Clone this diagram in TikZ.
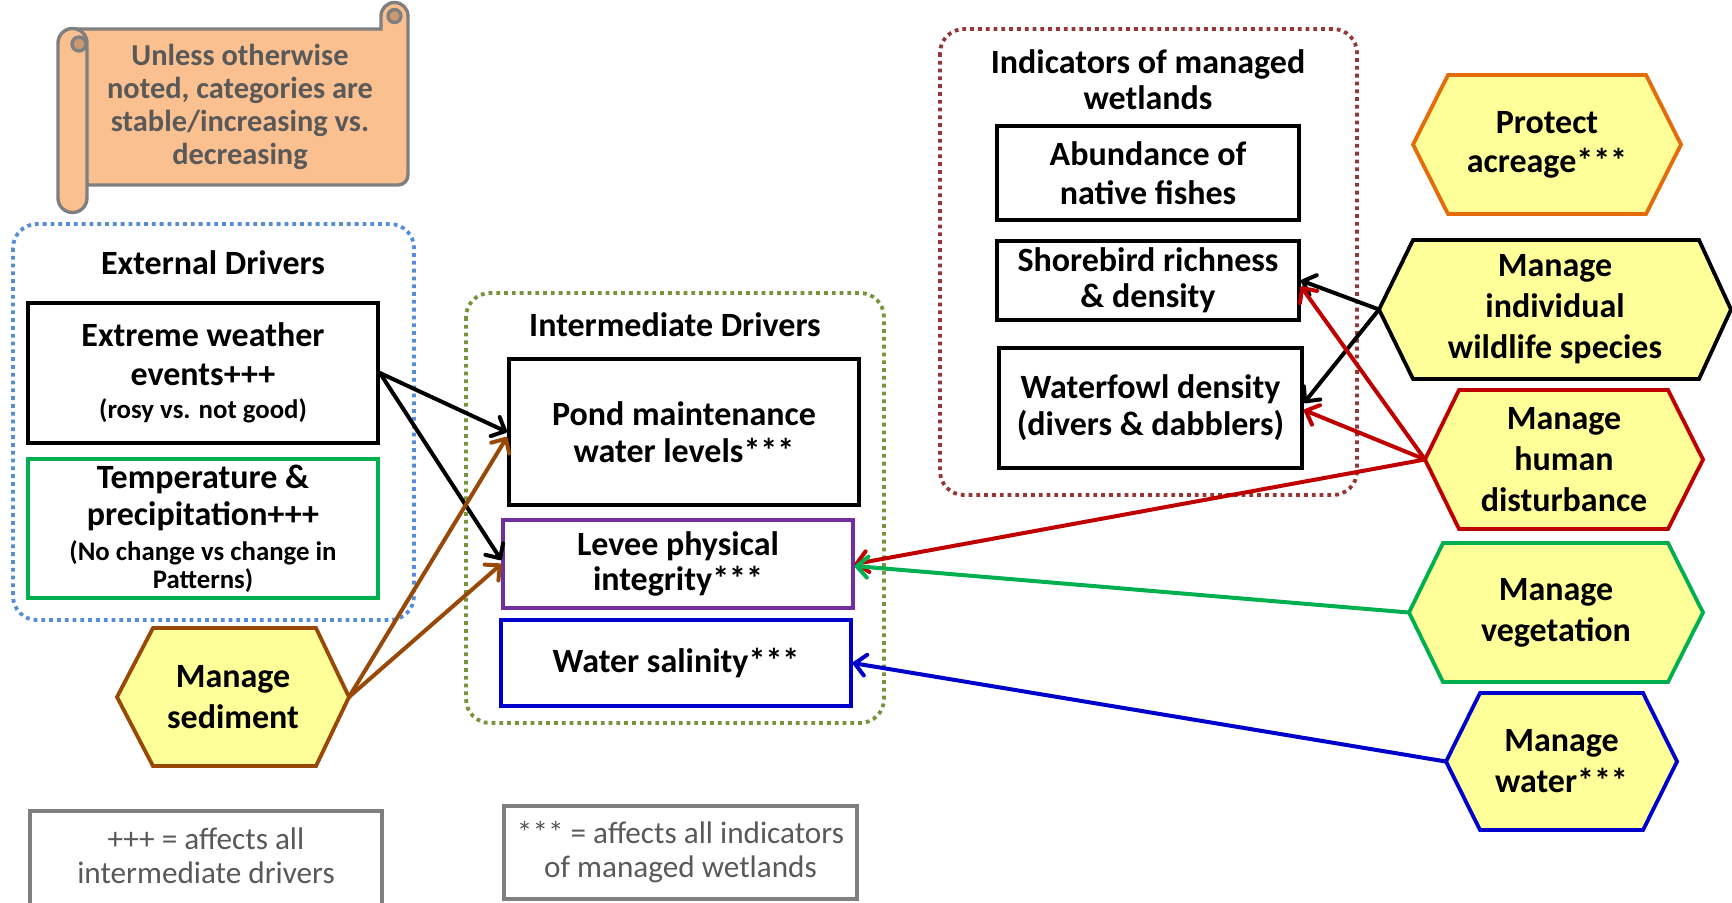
\documentclass[tikz,border=0pt]{standalone}
\usepackage{fontspec}
\setmainfont{Carlito}
\usetikzlibrary{arrows.meta,calc}

\definecolor{extblue}{HTML}{558ED5}
\definecolor{olivegreen}{HTML}{77933C}
\definecolor{wine}{HTML}{953735}
\definecolor{leafgreen}{HTML}{00B050}
\definecolor{levpurple}{HTML}{7030A0}
\definecolor{deepblue}{HTML}{0000CC}
\definecolor{alertred}{HTML}{C00000}
\definecolor{amber}{HTML}{E46C0A}
\definecolor{mud}{HTML}{984807}
\definecolor{paleyellow}{HTML}{FFFF99}
\definecolor{peach}{HTML}{FAC090}
\definecolor{peachdark}{HTML}{CC9A70}
\definecolor{edgegray}{HTML}{7F7F7F}
\definecolor{inkgray}{HTML}{595959}

\newcommand\minorline{\fontsize{13.4}{14}\selectfont}

% hexagon: name, x-left tip, x-top-left, x-top-right, x-right tip, y-top, y-bottom, colour, text
\newcommand\hexblock[9]{%
  \filldraw[hexshape, draw=#8] (#2,{(#6+#7)/2}) -- (#3,#6) -- (#4,#6) -- (#5,{(#6+#7)/2}) -- (#4,#7) -- (#3,#7) -- cycle;
  \coordinate (#1-w) at (#2,{(#6+#7)/2});
  \coordinate (#1-e) at (#5,{(#6+#7)/2});
  \node[hextext] (#1) at ({(#2+#5)/2},{(#6+#7)/2}) {#9};
}

\tikzset{
  box/.style={draw, line width=1.9pt, fill=white, inner sep=0pt, align=center,
    font=\bfseries\fontsize{17}{18.5}\selectfont},
  groupframe/.style={line width=1.9pt, rounded corners=12pt, dash pattern=on 1.9pt off 2pt},
  grouptitle/.style={align=center, inner sep=0pt, font=\bfseries\fontsize{17}{18}\selectfont},
  hexshape/.style={fill=paleyellow, line width=1.9pt, line join=miter},
  hextext/.style={align=center, inner sep=0pt, font=\bfseries\fontsize{17}{20.5}\selectfont},
  link/.style={line width=2pt, line cap=round, -{Straight Barb[length=5.5pt,width=10.5pt,round]}},
  notebox/.style={draw=edgegray, line width=1.7pt},
  notetext/.style={align=center, inner sep=0pt, text=inkgray, font=\fontsize{15.6}{17}\selectfont},
  scrolltext/.style={align=center, inner sep=0pt, text=inkgray, font=\bfseries\fontsize{15.2}{16.5}\selectfont},
}

\begin{document}
\begin{tikzpicture}[x={(0.5pt,0)}, y={(0,-0.5pt)}]
\fill[white] (0,0) rectangle (1732,902);
\useasboundingbox (0,0) rectangle (1732,902);

% ---- scroll note ----
\begin{scope}[draw=edgegray, line width=1.7pt, fill=peach]
  \filldraw (72,29) -- (381,29) -- (381,16) arc[start angle=180,end angle=360,radius=13.5]
    -- (408,175) arc[start angle=0,end angle=90,radius=10] -- (87,185) -- cycle;
  \filldraw[fill=peachdark] (394.5,16) circle[radius=6.5];
  \filldraw (58,43) arc[start angle=180,end angle=360,radius=14.5] -- (87,198)
    arc[start angle=0,end angle=180,radius=14.5] -- cycle;
  \filldraw[fill=peachdark] (79,44) circle[radius=7];
\end{scope}
\node[scrolltext] (scrollnote) at (240,107)
  {Unless otherwise\\noted, categories are\\stable/increasing vs.\\decreasing};

% ---- group frames ----
\draw[groupframe, extblue] (13,224) rectangle (414,620);
\draw[groupframe, olivegreen] (466,293) rectangle (884,723);
\draw[groupframe, wine] (940,29) rectangle (1357,495);

\node[grouptitle] (exttitle) at (213,263) {External Drivers};
\node[grouptitle] (inttitle) at (675,325) {Intermediate Drivers};
\node[grouptitle] (indtitle) at (1148,80) {Indicators of managed\\wetlands};

% ---- external drivers ----
\node[box, minimum width=175pt, minimum height=70pt] (ext) at (203,373)
  {Extreme weather\\[1pt]events+++\\[-2pt]\minorline (rosy vs. not good)};
\node[box, draw=leafgreen, line width=1.7pt, minimum width=175pt, minimum height=69.5pt] (temp) at (203,528.5)
  {Temperature \&\\precipitation+++\\[-1pt]\minorline (No change vs change in\\[-4.5pt]\minorline Patterns)};

% ---- intermediate drivers ----
\node[box, line width=2pt, minimum width=175pt, minimum height=73pt] (pond) at (684,432)
  {Pond maintenance\\water levels***};
\node[box, draw=levpurple, line width=1.7pt, minimum width=175pt, minimum height=44pt] (levee) at (678,564)
  {Levee physical\\[-1pt]integrity***};
\node[box, draw=deepblue, line width=1.7pt, minimum width=175pt, minimum height=43pt] (sal) at (676,663)
  {Water salinity***};

% ---- indicators ----
\node[box, minimum width=151pt, minimum height=47pt] (abund) at (1148,173)
  {Abundance of\\[1pt]native fishes};
\node[box, minimum width=151pt, minimum height=39.5pt] (shore) at (1148,280.5)
  {Shorebird richness\\[-0.5pt]\& density};
\node[box, minimum width=151.5pt, minimum height=60pt] (wfowl) at (1150.5,408)
  {Waterfowl density\\(divers \& dabblers)};

% ---- management actions ----
\hexblock{protect}{1413}{1448}{1646}{1681}{75}{214}{amber}{Protect\\[-1pt]acreage***}
\hexblock{wild}{1379}{1413}{1699}{1731}{240}{379}{black}{Manage\\individual\\wildlife species}
\hexblock{human}{1425}{1459}{1668}{1703}{390}{529}{alertred}{Manage\\human\\disturbance}
\hexblock{veg}{1409}{1443}{1668}{1703}{543}{682}{leafgreen}{Manage\\vegetation}
\hexblock{water}{1446}{1480}{1643}{1677}{693}{830}{deepblue}{Manage\\water***}
\hexblock{sed}{117}{153}{316}{349}{628}{766}{mud}{Manage\\sediment}

% ---- legends ----
\draw[notebox] (30,811) rectangle (382,915);
\node[notetext] (leg1) at (206,856) {+++ = affects all\\intermediate drivers};
\node[notetext, draw=edgegray, line width=1.7pt, minimum width=176.5pt, minimum height=46.5pt] (leg2)
  at (680.5,852.5) {*** = affects all indicators\\of managed wetlands};

% ---- connectors ----
\draw[link] (ext.east) -- (pond.west);
\draw[link] (ext.east) -- ($(levee.west)+(0,-4)$);
\draw[link, mud] (sed-e) -- ($(pond.west)+(0,5)$);
\draw[link, mud] (sed-e) -- (levee.west);
\draw[link] (wild-w) -- (shore.east);
\draw[link] (wild-w) -- ($(wfowl.east)+(0,-5)$);
\draw[link, alertred] (human-w) -- ($(shore.east)+(0,6)$);
\draw[link, alertred] (human-w) -- ($(wfowl.east)+(0,2)$);
\draw[link, alertred] (human-w) -- (levee.east);
\draw[link, leafgreen] (veg-w) -- ($(levee.east)+(0,2)$);
\draw[link, deepblue] (water-w) -- (sal.east);
\end{tikzpicture}
\end{document}
